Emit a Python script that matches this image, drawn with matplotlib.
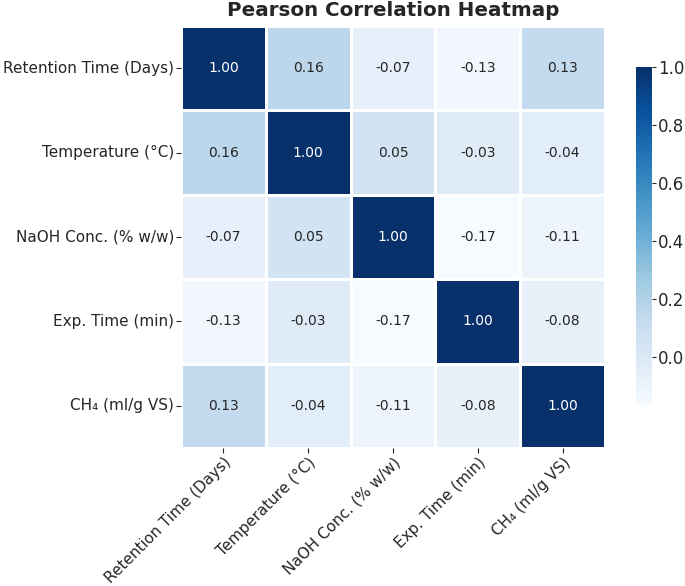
import matplotlib
matplotlib.use("Agg")
import matplotlib.pyplot as plt
import seaborn as sns
import numpy as np
import pandas as pd

labels = ["Retention Time (Days)", "Temperature (°C)", "NaOH Conc. (% w/w)",
          "Exp. Time (min)", "CH₄ (ml/g VS)"]
row_retention = [1.00, 0.16, -0.07, -0.13, 0.13]
row_temperature = [0.16, 1.00, 0.05, -0.03, -0.04]
row_naoh = [-0.07, 0.05, 1.00, -0.17, -0.11]
row_exptime = [-0.13, -0.03, -0.17, 1.00, -0.08]
row_ch4 = [0.13, -0.04, -0.11, -0.08, 1.00]

corr = pd.DataFrame([row_retention, row_temperature, row_naoh, row_exptime, row_ch4],
                    index=labels, columns=labels)

plt.rcParams['text.color'] = '#262626'
plt.rcParams['axes.labelcolor'] = '#262626'
plt.rcParams['xtick.color'] = '#262626'
plt.rcParams['ytick.color'] = '#262626'
plt.rcParams['font.family'] = ['DejaVu Sans']

W, H = 685, 586
fig = plt.figure(figsize=(W / 100, H / 100), dpi=100)
ax = fig.add_axes([181 / W, 1 - 448 / H, 424 / W, 422 / H])
cax = fig.add_axes([636 / W, 1 - 406 / H, 16 / W, 339 / H])

sns.heatmap(corr, ax=ax, cbar_ax=cax, cmap="Blues", annot=True, fmt=".2f",
            linewidths=1, linecolor="white", annot_kws={"size": 10})

ax.set_title("Pearson Correlation Heatmap", fontsize=14.3, fontweight="bold", pad=7.5)
ax.set_xticklabels(labels, rotation=45, ha="right", rotation_mode="anchor", fontsize=11)
ax.set_yticklabels(labels, rotation=0, fontsize=11)
ax.tick_params(axis="both", length=3.5, pad=1.5)
cax.tick_params(labelsize=12, length=3, pad=1.5)
cax.set_yticks([0.0, 0.2, 0.4, 0.6, 0.8, 1.0])

fig.savefig("out.png", dpi=100)
